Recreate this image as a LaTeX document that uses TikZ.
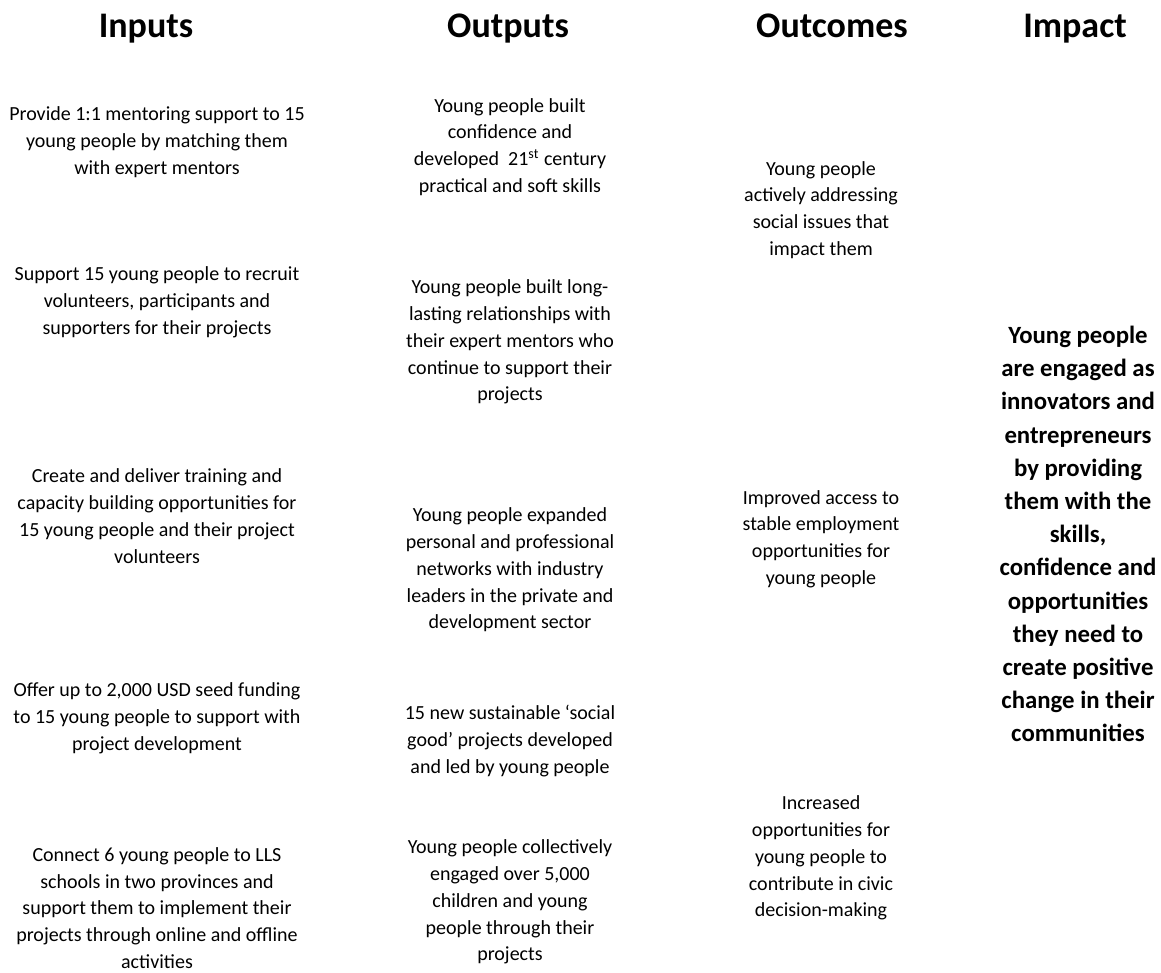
\documentclass[tikz,border=0pt]{standalone}
\usepackage{fontspec}
\setmainfont{Carlito}
\usepackage{tikz}

\tikzset{
  head/.style={font=\fontsize{18}{22}\selectfont\bfseries, align=center, inner sep=0pt, anchor=base},
  item/.style={font=\fontsize{10}{13.4}\selectfont, align=center, inner sep=0pt},
  goal/.style={font=\fontsize{12.4}{16.6}\selectfont\bfseries, align=center, inner sep=0pt}
}

\begin{document}
\begin{tikzpicture}[x=0.5pt,y=-0.5pt]

			\useasboundingbox (0,0) rectangle (1161,973);

			\node (hin)[head] at (146,38) {Inputs};
			\node (hout)[head] at (508,38) {Outputs};
			\node (hoc)[head] at (832,38) {Outcomes};
			\node (himp)[head] at (1075,38) {Impact};

			\node (in1)[item] at (157,142) {Provide 1:1 mentoring support to 15\\young people by matching them\\with expert mentors};
			\node (in2)[item] at (157,302) {Support 15 young people to recruit\\volunteers, participants and\\supporters for their projects};
			\node (in3)[item] at (157,516) {Create and deliver training and\\capacity building opportunities for\\15 young people and their project\\volunteers};
			\node (in4)[item] at (157,718) {Offer up to 2,000 USD seed funding\\to 15 young people to support with\\project development};
			\node (in5)[item] at (157,908) {Connect 6 young people to LLS\\schools in two provinces and\\support them to implement their\\projects through online and offline\\activities};

			\node (out1)[item] at (510,147) {Young people built\\confidence and\\developed\ \ 21\textsuperscript{st} century\\practical and soft skills};
			\node (out2)[item] at (510,342) {Young people built long-\\lasting relationships with\\their expert mentors who\\continue to support their\\projects};
			\node (out3)[item] at (510,570) {Young people expanded\\personal and professional\\networks with industry\\leaders in the private and\\development sector};
			\node (out4)[item] at (510,741) {15 new sustainable ‘social\\good’ projects developed\\and led by young people};
			\node (out5)[item] at (510,902) {Young people collectively\\engaged over 5,000\\children and young\\people through their\\projects};

			\node (oc1)[item] at (821,210) {Young people\\actively addressing\\social issues that\\impact them};
			\node (oc2)[item] at (821,539) {Improved access to\\stable employment\\opportunities for\\young people};
			\node (oc3)[item] at (821,858) {Increased\\opportunities for\\young people to\\contribute in civic\\decision-making};

			\node (imp)[goal] at (1078,534) {Young people\\are engaged as\\innovators and\\entrepreneurs\\by providing\\them with the\\skills,\\confidence and\\opportunities\\they need to\\create positive\\change in their\\communities};

		\end{tikzpicture}
\end{document}
